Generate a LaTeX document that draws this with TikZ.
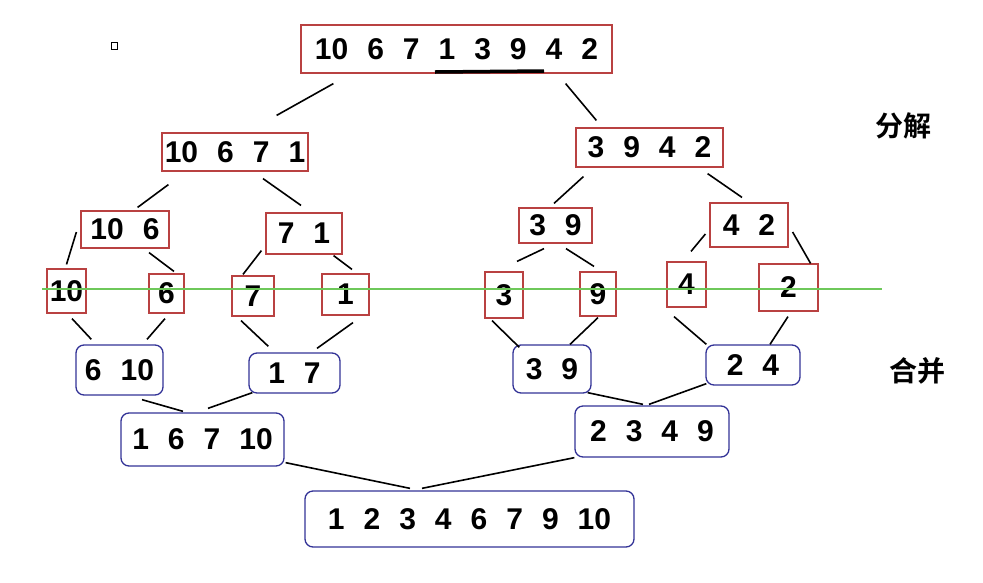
\documentclass[tikz,border=0pt]{standalone}
\usepackage{fontspec}
\setmainfont{Liberation Sans}
\newfontfamily\cjk[BoldFont={Noto Sans CJK SC Bold}]{Noto Sans CJK SC}
\usetikzlibrary{calc}

\definecolor{splitred}{RGB}{185,65,65}
\definecolor{mergeblue}{RGB}{50,50,150}
\definecolor{cutgreen}{RGB}{110,200,90}
\newcommand\numfont{\fontsize{30}{30}\selectfont\bfseries\spaceskip=19pt\relax}

\begin{document}
\begin{tikzpicture}[
  x=1pt, y=-1pt,
  num/.style={inner sep=0pt, font=\numfont},
  split/.style={num, draw=splitred, line width=1.2pt},
  merged/.style={num, draw=mergeblue, line width=1.3pt, rounded corners=8pt},
  sz/.style 2 args={minimum width=#1pt, minimum height=#2pt},
  link/.style={line width=1.6pt},
  stage/.style={font=\fontsize{28}{28}\selectfont\cjk\bfseries}
]
  \useasboundingbox (0,0) rectangle (983,582);

  % split tree
  \node[split, sz={311}{48}] (a) at (456.5,49) {10 6 7 1 3 9 4 2};
  \node[split, sz={146}{38}] (al) at (235,152) {10 6 7 1};
  \node[split, sz={147}{39}] (ar) at (649.5,147.5) {3 9 4 2};
  \node[split, sz={88}{37}] (all) at (125,229.5) {10 6};
  \node[split, sz={76}{41}] (alr) at (304,233.5) {7 1};
  \node[split, sz={73}{35}] (arl) at (555.5,225.5) {3 9};
  \node[split, sz={78}{44}] (arr) at (749,225) {4 2};
  \node[split, sz={39}{44}] (alll) at (66.5,291) {10};
  \node[split, sz={35}{39}] (allr) at (166.5,293.5) {6};
  \node[split, sz={42}{40}] (alrl) at (253,296) {7};
  \node[split, sz={47}{41}] (alrr) at (345.5,294.5) {1};
  \node[split, sz={38}{46}] (arll) at (504,295) {3};
  \node[split, sz={36}{44}] (arlr) at (598,294) {9};
  \node[split, sz={39}{45}] (arrl) at (686.5,284.5) {4};
  \node[split, sz={59}{47}] (arrr) at (788.5,287.5) {2};

  % merge tree
  \node[merged, sz={87}{50}] (m1) at (119.5,370) {6 10};
  \node[merged, sz={91}{40}] (m2) at (294.5,373) {1 7};
  \node[merged, sz={78}{48}] (m3) at (552,369) {3 9};
  \node[merged, sz={94}{40}] (m4) at (753,365) {2 4};
  \node[merged, sz={163}{53}] (m12) at (202.5,439.5) {1 6 7 10};
  \node[merged, sz={154}{51}] (m34) at (652,431.5) {2 3 4 9};
  \node[merged, sz={329}{56}] (m) at (469.5,519) {1 2 3 4 6 7 9 10};

  \node[stage] (fenjie) at (903.5,126) {分解};
  \node[stage] (hebing) at (917.5,371) {合并};

  % marks
  \draw[line width=3.5pt] (435,72) -- (544,71);
  \draw[line width=1pt] (111,42) rectangle (117,49);
  \draw[cutgreen, line width=1.4pt] (42,289) -- (882,289);

  % split links
  \draw[link] ($(a.south west)+(33,10)$) -- ($(al.north east)+(-32,-17)$);
  \draw[link] ($(a.south east)+(-47,10)$) -- ($(ar.north west)+(21,-7)$);
  \draw[link] ($(al.south west)+(7,13)$) -- ($(all.north east)+(-32,-3)$);
  \draw[link] ($(al.south)+(28,7)$) -- ($(alr.north)+(-3,-7)$);
  \draw[link] ($(ar.south west)+(8,9)$) -- ($(arl.north)+(-1.5,-4)$);
  \draw[link] ($(ar.south east)+(-16,6)$) -- ($(arr.north)+(-7,-5)$);
  \draw[link] ($(all.west)+(-4,2.5)$) -- ($(alll.north)+(0,-4)$);
  \draw[link] ($(all.south)+(24,4)$) -- ($(allr.north)+(7.5,-2)$);
  \draw[link] ($(alr.south west)+(-4,-4)$) -- ($(alrl.north)+(-10,-1)$);
  \draw[link] ($(alr.south east)+(-9,1)$) -- ($(alrr.north)+(6.5,-4)$);
  \draw[link] ($(arl.south)+(-11.5,5)$) -- ($(arll.north)+(13,-10)$);
  \draw[link] ($(arl.south)+(10.5,5)$) -- ($(arlr.north)+(-4,-5)$);
  \draw[link] ($(arr.west)+(-4,9)$) -- ($(arrl.north)+(4.5,-10)$);
  \draw[link] ($(arr.east)+(4,7)$) -- ($(arrr.north east)+(-8,0)$);

  % merge links
  \draw[link] ($(alll.south)+(5.5,5)$) -- ($(m1.north west)+(16,-5)$);
  \draw[link] ($(allr.south)+(-1.5,5)$) -- ($(m1.north)+(27.5,-5)$);
  \draw[link] ($(alrl.south)+(-12,4)$) -- ($(m2.north west)+(20,-6)$);
  \draw[link] ($(alrr.south)+(7.5,7)$) -- ($(m2.north)+(22.5,-4)$);
  \draw[link] ($(arll.south)+(-12,2)$) -- ($(m3.north west)+(7,3)$);
  \draw[link] ($(arlr.south)+(0,1)$) -- ($(m3.north)+(18,0)$);
  \draw[link] ($(arrl.south)+(-12.5,9)$) -- ($(m4.north west)+(1,0)$);
  \draw[link] ($(arrr.south)+(-0.5,5)$) -- ($(m4.north)+(17,0)$);
  \draw[link] ($(m1.south)+(22.5,4)$) -- ($(m12.north)+(-19.5,-1)$);
  \draw[link] ($(m2.south west)+(4,-1)$) -- ($(m12.north)+(5.5,-4)$);
  \draw[link] ($(m3.south east)+(-4,-1)$) -- ($(m34.north)+(-9,-1)$);
  \draw[link] ($(m4.south west)+(1,-2)$) -- ($(m34.north)+(-3,-1)$);
  \draw[link] ($(m12.south east)+(1,-4)$) -- ($(m.north)+(-59.5,-2)$);
  \draw[link] ($(m34.south west)+(0,0)$) -- ($(m.north)+(-47.5,-2)$);
\end{tikzpicture}
\end{document}
